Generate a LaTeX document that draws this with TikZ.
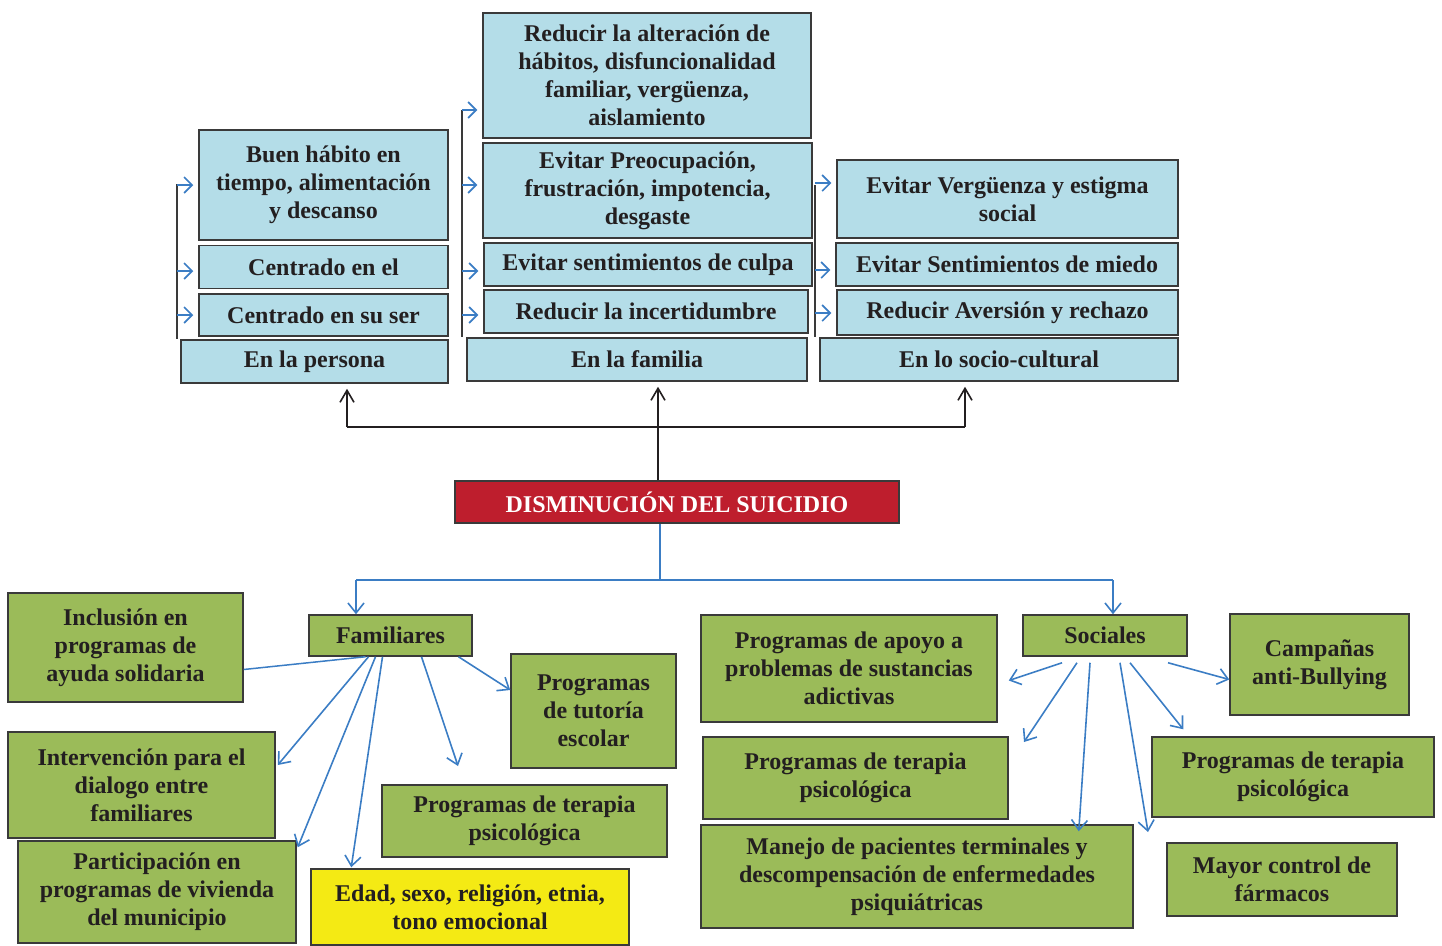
\documentclass[tikz,border=0pt]{standalone}
\usepackage{fontspec}
\setmainfont{Liberation Serif}
\usetikzlibrary{arrows.meta,positioning}
\definecolor{lblue}{HTML}{B4DDE8}
\definecolor{lgreen}{HTML}{9BBB59}
\definecolor{lyellow}{HTML}{F4EA14}
\definecolor{dred}{HTML}{BE1E2D}
\definecolor{edge}{HTML}{3A3A3A}
\definecolor{ink}{HTML}{231F20}
\definecolor{arrblue}{HTML}{3B7DC4}
\tikzset{
  box/.style={draw=edge, line width=1.5pt, align=center, inner sep=0pt, text=ink,
    font=\fontsize{24}{28}\selectfont\bfseries},
  tb/.style={box, fill=lblue},
  gb/.style={box, fill=lgreen},
  barline/.style={draw=edge, line width=1.5pt},
  barr/.style={draw=arrblue, line width=1.6pt, shorten >=5pt, -{Straight Barb[length=8pt,width=16pt]}},
  karr/.style={draw=ink, line width=1.6pt, shorten >=5pt, -{Straight Barb[length=12pt,width=14pt]}},
  bline/.style={draw=arrblue, line width=1.5pt},
  garr/.style={draw=arrblue, line width=1.6pt, -{Straight Barb[length=10pt,width=16pt]}}
}
\begin{document}
\begin{tikzpicture}[x=1pt,y=-1pt]
\useasboundingbox (0,0) rectangle (1442,945);
\node [tb, minimum width=249pt, minimum height=110pt] (b1) at (323.5,185) {Buen hábito en\\tiempo, alimentación\\y descanso};
\node [tb, minimum width=249pt, minimum height=43pt, below=4pt of b1] (b2) {Centrado en el};
\node [tb, minimum width=249pt, minimum height=42pt, below=4pt of b2] (b3) {Centrado en su ser};
\node [tb, minimum width=267pt, minimum height=43pt] (b4) at (314.5,361.5) {En la persona};
\node [tb, minimum width=328pt, minimum height=125pt] (a1) at (647,75.5) {Reducir la alteración de\\hábitos, disfuncionalidad\\familiar, vergüenza,\\aislamiento};
\node [tb, minimum width=329pt, minimum height=95pt] (a2) at (647.5,190.5) {Evitar Preocupación,\\frustración, impotencia,\\desgaste};
\node [tb, minimum width=328pt, minimum height=43pt] (a3) at (648,264.5) {Evitar sentimientos de culpa};
\node [tb, minimum width=324pt, minimum height=43pt] (a4) at (646,311.5) {Reducir la incertidumbre};
\node [tb, minimum width=340pt, minimum height=43pt] (a5) at (637,359.5) {En la familia};
\node [tb, minimum width=341pt, minimum height=78pt] (c1) at (1007.5,199) {Evitar Vergüenza y estigma\\social};
\node [tb, minimum width=342pt, minimum height=43pt] (c2) at (1007,264.5) {Evitar Sentimientos de miedo};
\node [tb, minimum width=341pt, minimum height=45pt] (c3) at (1007.5,312.5) {Reducir Aversión y rechazo};
\node [tb, minimum width=358pt, minimum height=43pt] (c4) at (999,359.5) {En lo socio-cultural};
\node [box, fill=dred, text=white, minimum width=444pt, minimum height=42pt] (dis) at (677,502) {DISMINUCIÓN DEL SUICIDIO};
\node [gb, minimum width=163pt, minimum height=41pt] (fam) at (390.5,635.5) {Familiares};
\node [gb, minimum width=235pt, minimum height=109pt] (inc) at (125.5,647.5) {Inclusión en\\programas de\\ayuda solidaria};
\node [gb, minimum width=267pt, minimum height=106pt] (int) at (141.5,785) {Intervención para el\\dialogo entre\\familiares};
\node [gb, minimum width=278pt, minimum height=102pt] (par) at (157,892) {Participación en\\programas de vivienda\\del municipio};
\node [gb, minimum width=165pt, minimum height=114pt] (tut) at (593.5,711) {Programas\\de tutoría\\escolar};
\node [gb, minimum width=285pt, minimum height=72pt] (ter) at (524.5,821) {Programas de terapia\\psicológica};
\node [box, fill=lyellow, minimum width=318pt, minimum height=76pt] (eda) at (470,907) {Edad, sexo, religión, etnia,\\tono emocional};
\node [gb, minimum width=164pt, minimum height=41pt] (soc) at (1105,635.5) {Sociales};
\node [gb, minimum width=296pt, minimum height=107pt] (apo) at (849,668.5) {Programas de apoyo a\\problemas de sustancias\\adictivas};
\node [gb, minimum width=305pt, minimum height=82pt] (ter2) at (855.5,778) {Programas de terapia\\psicológica};
\node [gb, minimum width=432pt, minimum height=103pt] (man) at (917,876.5) {Manejo de pacientes terminales y\\descompensación de enfermedades\\psiquiátricas};
\node [gb, minimum width=179pt, minimum height=101pt] (cam) at (1319.5,664.5) {Campañas\\anti-Bullying};
\node [gb, minimum width=282pt, minimum height=80pt] (ter3) at (1293,777) {Programas de terapia\\psicológica};
\node [gb, minimum width=230pt, minimum height=73pt] (may) at (1282,879.5) {Mayor control de\\fármacos};
\coordinate (p0) at (177,184);
\coordinate (q0) at (462,110);
\coordinate (r0) at (815,185);
\draw [barline] (p0) -- (p0 |- b4.north);
\draw [barline] (q0) -- (q0 |- a5.north);
\draw [barline] (r0) -- (r0 |- c4.north);
\foreach \y/\n in {185/b1, 271/b2, 315/b3} {
  \coordinate (t) at (177,\y);
  \draw [barr] (t) -- (t -| \n.west);
}
\foreach \y/\n in {110/a1, 185/a2, 271/a3, 315/a4} {
  \coordinate (t) at (462,\y);
  \draw [barr] (t) -- (t -| \n.west);
}
\foreach \y/\n in {183/c1, 270/c2, 313/c3} {
  \coordinate (t) at (815,\y);
  \draw [barr] (t) -- (t -| \n.west);
}
\coordinate (hl) at (347,427);
\coordinate (hm) at (658,427);
\coordinate (hr) at (965,427);
\draw [draw=ink, line width=1.6pt] (hl) -- (hr);
\draw [karr] (hl) -- (hl |- b4.south);
\draw [karr] (hm |- dis.north) -- (hm |- a5.south);
\draw [karr] (hr) -- (hr |- c4.south);
\coordinate (bm) at (660,580);
\coordinate (bl) at (356,580);
\coordinate (br) at (1113,580);
\draw [bline] (bm |- dis.south) -- (bm);
\draw [bline] (bl) -- (br);
\draw [garr] (bl) -- (bl |- fam.north);
\draw [garr] (br) -- (br |- soc.north);
\coordinate (f5) at (458,766);
\draw [bline] ([xshift=-25pt]fam.south) -- ([yshift=-22pt]inc.east);
\draw [garr] ([xshift=-22pt]fam.south) -- ([xshift=2pt,yshift=20pt]int.east);
\draw [garr] ([xshift=-15pt]fam.south) -- ([xshift=1pt,yshift=-7pt]par.north east);
\draw [garr] ([xshift=-8pt]fam.south) -- ([xshift=41pt,yshift=1pt]eda.north west);
\draw [garr] ([xshift=31pt]fam.south) -- (f5);
\draw [garr] ([xshift=68pt]fam.south) -- ([yshift=21pt]tut.west);
\coordinate (s2) at (1024,742);
\coordinate (s4) at (1148,832);
\draw [garr] ([xshift=-43pt,yshift=-6pt]soc.south) -- ([xshift=11pt,yshift=-12pt]apo.east);
\draw [garr] ([xshift=-28pt,yshift=-6pt]soc.south) -- (s2);
\draw [garr] ([xshift=-15pt,yshift=-6pt]soc.south) -- ([xshift=-55pt,yshift=-7pt]man.north east);
\draw [garr] ([xshift=15pt,yshift=-6pt]soc.south) -- (s4);
\draw [garr] ([xshift=25pt,yshift=-6pt]soc.south) -- ([xshift=32pt,yshift=7pt]ter3.north west);
\draw [garr] ([xshift=63pt,yshift=-6pt]soc.south) -- ([yshift=-15pt]cam.west);
\end{tikzpicture}
\end{document}
